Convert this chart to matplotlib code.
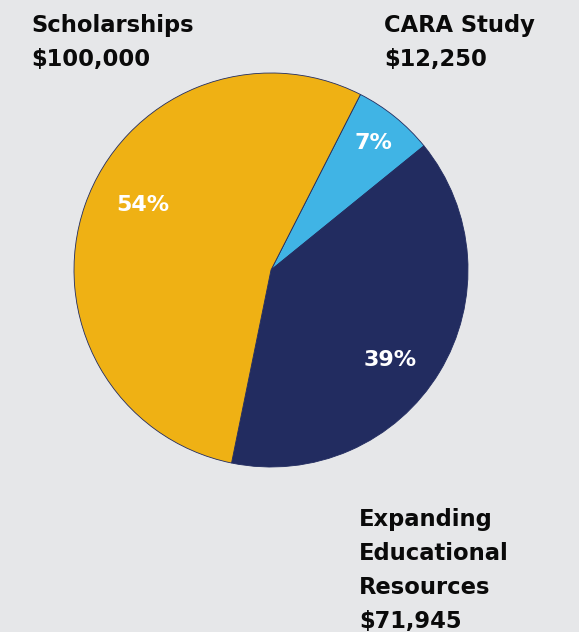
"""Budget allocation pie chart."""

import numpy as np
import matplotlib

matplotlib.use("Agg")
import matplotlib.pyplot as plt

# data, clockwise from the top-right
categories = ["CARA Study", "Expanding\nEducational\nResources", "Scholarships"]
amounts = [12250, 71945, 100000]
colors = ["#40b4e5", "#222c60", "#efb114"]
# percentage label placement (angle in degrees, radius as fraction)
pct_angle = [51, -37, 153]
pct_radius = [0.83, 0.76, 0.73]

BG = "#e6e7e9"
FONT = "DejaVu Sans"

fig = plt.figure(figsize=(5.79, 6.32), dpi=100, facecolor=BG)
W, H = 579, 632
cx, cy, r = 271, 270, 197
ax = fig.add_axes([(cx - r) / W, 1 - (cy + r) / H, 2 * r / W, 2 * r / H])
ax.set_facecolor(BG)

wedges, _ = ax.pie(
    amounts,
    colors=colors,
    startangle=63,
    counterclock=False,
    radius=1.0,
    wedgeprops=dict(edgecolor="#222c60", linewidth=0.6),
)
ax.set_xlim(-1, 1)
ax.set_ylim(-1, 1)
ax.set_aspect("auto")
ax.axis("off")

total = sum(amounts)
for amount, ang, rad in zip(amounts, pct_angle, pct_radius):
    a = np.deg2rad(ang)
    ax.text(
        rad * np.cos(a), rad * np.sin(a),
        f"{round(100 * amount / total)}%",
        ha="center", va="center", color="white",
        fontsize=16, fontweight="bold", family=FONT,
    )

# outside labels (pixel positions of the text blocks)
label_pos = {
    "CARA Study": (384, 14),
    "Expanding\nEducational\nResources": (359, 508),
    "Scholarships": (31, 14),
}
for name, amount in zip(categories, amounts):
    x, y = label_pos[name]
    fig.text(
        x / W, 1 - y / H,
        f"{name}\n${amount:,}",
        ha="left", va="top", color="#0a0a0a",
        fontsize=16.3, fontweight="bold", family=FONT,
        linespacing=1.62,
    )

fig.savefig("out.png", dpi=100, facecolor=BG)
